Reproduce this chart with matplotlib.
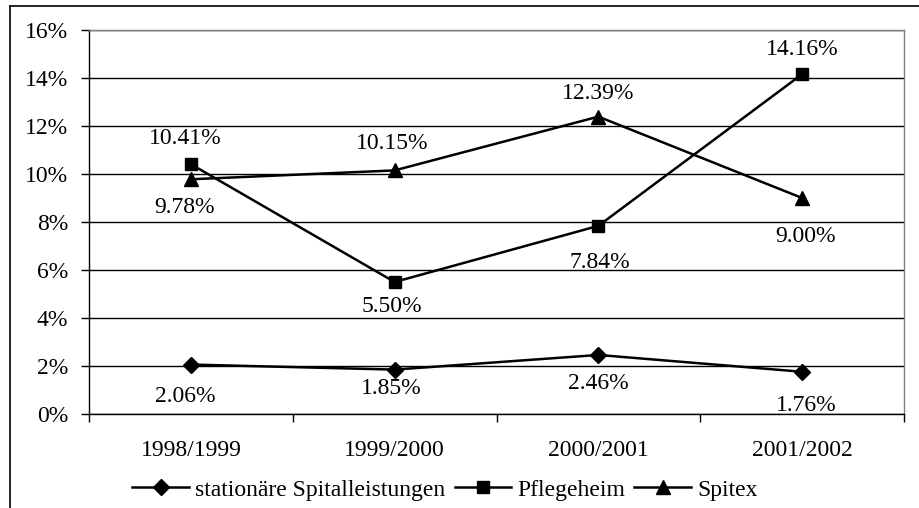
import matplotlib
matplotlib.use('Agg')
import matplotlib.pyplot as plt
from matplotlib.lines import Line2D
from matplotlib.ticker import FixedLocator, NullFormatter

plt.rcParams['font.family'] = ['Liberation Serif', 'DejaVu Serif']

# data (percent)
jahre = ['1998/1999', '1999/2000', '2000/2001', '2001/2002']
spital = [2.06, 1.85, 2.46, 1.76]
pflegeheim = [10.41, 5.50, 7.84, 14.16]
spitex = [9.78, 10.15, 12.39, 9.00]
serien_namen = ['stationäre Spitalleistungen', 'Pflegeheim', 'Spitex']

# label offsets in pixels (dx, dy), as placed in the original
off_spital = [(-6, -32), (-3, -19), (0, -29), (4, -34)]
off_pflege = [(-6, 26), (-3, -25), (1, -37), (0, 25)]
off_spitex = [(-6, -28), (-2, 27), (0, 23), (3, -38)]

fig = plt.figure(figsize=(9.2, 5.08), dpi=100)
ax = fig.add_axes([89/920, 1-414/508, (904-89)/920, (414-30)/508])

x = list(range(len(jahre)))
fs = 17

ax.plot(x, spital, color='black', lw=1.8, marker='D', ms=8, mfc='black', mec='black')
ax.plot(x, pflegeheim, color='black', lw=1.8, marker='s', ms=9, mfc='black', mec='black')
ax.plot(x, spitex, color='black', lw=1.8, marker='^', ms=10, mfc='black', mec='black')

for vals, offs in [(spital, off_spital), (pflegeheim, off_pflege), (spitex, off_spitex)]:
    for xi, v, (dx, dy) in zip(x, vals, offs):
        ax.annotate(f'{v:.2f}%', (xi, v), xytext=(dx, dy), textcoords='offset pixels',
                    ha='center', va='center', fontsize=fs)

ax.set_xlim(-0.5, 3.5)
ax.set_ylim(0, 16)
ax.set_yticks(range(0, 17, 2))
ax.set_yticklabels([f'{t}%' for t in range(0, 17, 2)], fontsize=fs)
ax.yaxis.grid(True, color='black', lw=1)
ax.set_axisbelow(True)

ax.xaxis.set_major_locator(FixedLocator([-0.5, 0.5, 1.5, 2.5, 3.5]))
ax.xaxis.set_major_formatter(NullFormatter())
ax.set_xticks(x, minor=True)
ax.set_xticklabels(jahre, minor=True, fontsize=fs)
ax.tick_params(axis='x', which='minor', length=0, pad=19)
ax.tick_params(axis='x', which='major', length=6, width=1, direction='out')
ax.tick_params(axis='y', length=6, width=1, direction='out', pad=9)

ax.spines['top'].set_color('#808080')
ax.spines['right'].set_color('#808080')
ax.spines['left'].set_color('black')
ax.spines['bottom'].set_color('black')
for s in ax.spines.values():
    s.set_linewidth(1)

handles = [
    Line2D([], [], color='black', lw=1.8, marker='D', ms=8),
    Line2D([], [], color='black', lw=1.8, marker='s', ms=9),
    Line2D([], [], color='black', lw=1.8, marker='^', ms=10),
]
fig.legend(handles, serien_namen, loc='center', bbox_to_anchor=(445/920, 1-490/508),
           ncol=3, frameon=False, fontsize=fs, handlelength=2.4, handletextpad=0.25,
           columnspacing=0.4, borderaxespad=0)

# outer chart border (partly cut off in the original)
fig.add_artist(Line2D([10/920, 10/920], [0, 1-6/508], color='black', lw=1.2,
                      transform=fig.transFigure))
fig.add_artist(Line2D([10/920, 1], [1-6/508, 1-6/508], color='black', lw=1.2,
                      transform=fig.transFigure))

fig.savefig('out.png', dpi=100)
